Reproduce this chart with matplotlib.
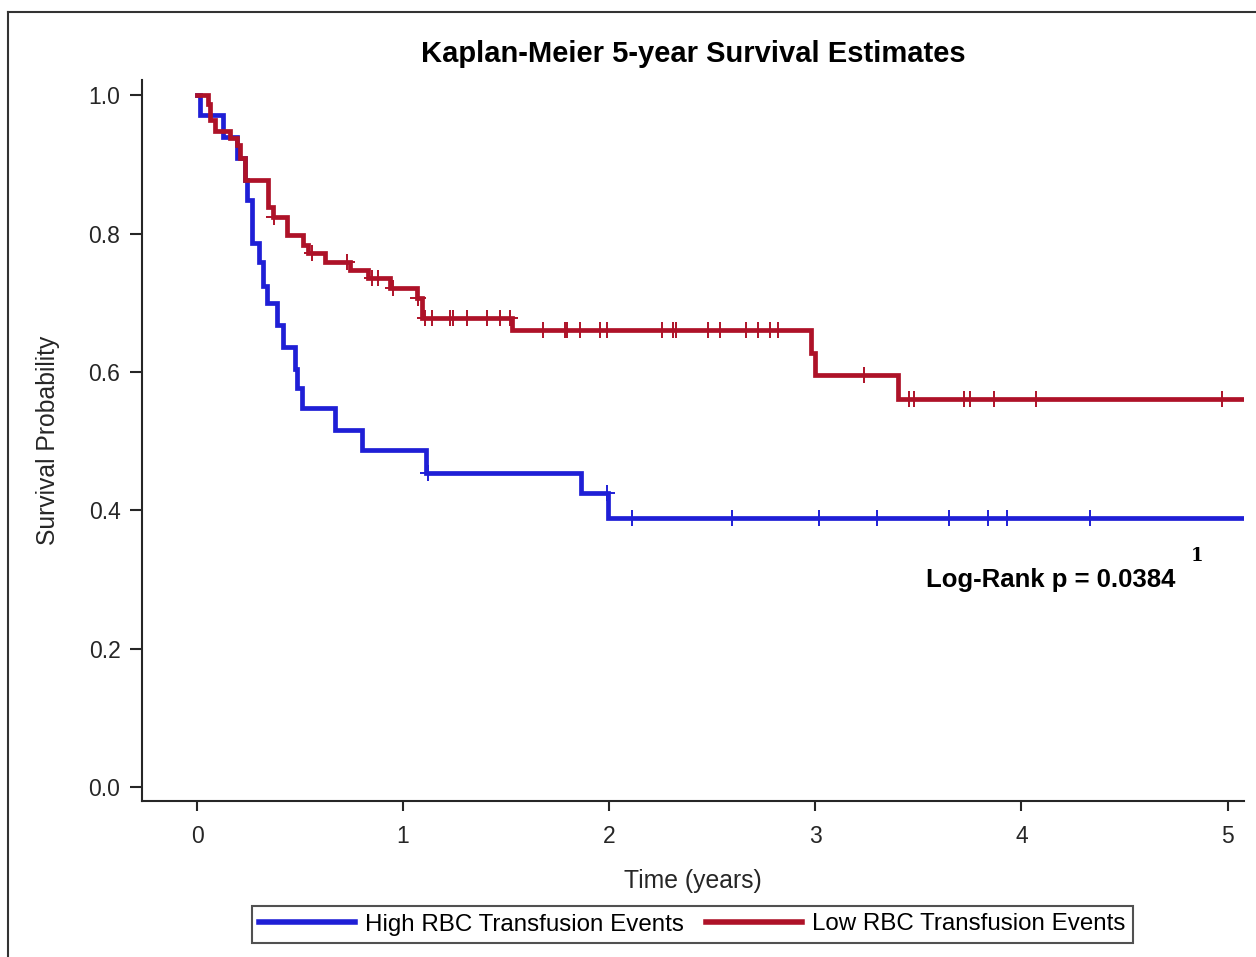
import numpy as np
import matplotlib
matplotlib.use("Agg")
import matplotlib.pyplot as plt
from matplotlib.lines import Line2D

plt.rcParams['font.family'] = ['Liberation Sans', 'DejaVu Sans']

# High RBC transfusion events (KM steps)
high_t = [0, 0.015, 0.124, 0.192, 0.233, 0.241, 0.265, 0.30, 0.32, 0.34, 0.387,
          0.417, 0.475, 0.483, 0.508, 0.669, 0.80, 1.11, 1.862, 1.995, 5.08]
high_s = [1.0, 0.971, 0.94, 0.909, 0.877, 0.848, 0.786, 0.759, 0.725, 0.699, 0.668,
          0.636, 0.605, 0.577, 0.548, 0.516, 0.487, 0.454, 0.425, 0.389, 0.389]
high_cens = [1.12, 1.99, 2.11, 2.595, 3.016, 3.30, 3.65, 3.836, 3.93, 4.335]

# Low RBC transfusion events
low_t = [0, 0.055, 0.063, 0.087, 0.160, 0.193, 0.209, 0.233, 0.344, 0.369, 0.435,
         0.514, 0.540, 0.621, 0.742, 0.829, 0.936, 1.065, 1.090, 1.526, 2.981,
         2.997, 3.401, 5.08]
low_s = [1.0, 0.988, 0.964, 0.949, 0.938, 0.928, 0.909, 0.877, 0.838, 0.824, 0.798,
         0.783, 0.772, 0.759, 0.747, 0.736, 0.721, 0.707, 0.678, 0.660, 0.627,
         0.595, 0.561, 0.561]
low_cens = [0.375, 0.56, 0.73, 0.85, 0.88, 0.95, 1.07, 1.106, 1.138, 1.227, 1.242,
            1.309, 1.406, 1.469, 1.52, 1.679, 1.785, 1.794, 1.857, 1.954, 1.988,
            2.254, 2.308, 2.323, 2.478, 2.536, 2.666, 2.721, 2.779, 2.818, 3.234,
            3.453, 3.477, 3.719, 3.752, 3.865, 4.069, 4.974]

x_ticks = [0, 1, 2, 3, 4, 5]
y_ticks = [0.0, 0.2, 0.4, 0.6, 0.8, 1.0]

blue = '#1f1fd6'
red = '#ae1228'
ink = '#262626'


def level_at(ts, ss, c):
    i = np.searchsorted(ts, c, side='right') - 1
    return np.asarray(ss)[i]


fig = plt.figure(figsize=(12.56, 9.57), dpi=100)
ax = fig.add_axes([142 / 1256, 1 - 801 / 957, 1102 / 1256, 721 / 957])

for ts, ss, cens, col, lab in [(high_t, high_s, high_cens, blue, 'High RBC Transfusion Events'),
                                (low_t, low_s, low_cens, red, 'Low RBC Transfusion Events')]:
    ax.step(ts, ss, where='post', color=col, lw=3.4, label=lab, solid_joinstyle='miter')
    ax.plot(cens, level_at(ts, ss, cens), ls='none', marker='+', ms=11, mew=1.4, color=col)

ax.set_xlim(-0.267, 5.08)
ax.set_ylim(-0.02, 1.022)
ax.set_xticks(x_ticks)
ax.set_xticklabels([str(v) for v in x_ticks])
ax.set_yticks(y_ticks)
ax.set_yticklabels(['%.1f' % v for v in y_ticks])

for s in ['top', 'right']:
    ax.spines[s].set_visible(False)
for s in ['left', 'bottom']:
    ax.spines[s].set_linewidth(1.5)
    ax.spines[s].set_color(ink)
ax.tick_params(axis='y', length=8.5, width=1.5, color=ink, pad=7, labelsize=16.5, labelcolor=ink)
ax.tick_params(axis='x', length=7, width=1.5, color=ink, pad=10, labelsize=16.5, labelcolor=ink)

ax.set_xlabel('Time (years)', fontsize=17.8, color=ink)
ax.xaxis.set_label_coords(0.5, -0.094)
ax.set_ylabel('Survival Probability', fontsize=17.8, color=ink)
ax.yaxis.set_label_coords(-0.074, 0.5)

ax.set_title('Kaplan-Meier 5-year Survival Estimates', fontsize=21, fontweight='bold',
             color='black', y=1.0, pad=0)
ax.title.set_position((0.5, 1 + (80 - 54) / 721))
ax.title.set_va('center')

ax.text(4.14, 0.30, 'Log-Rank p = 0.0384', fontsize=18.5, fontweight='bold',
        ha='center', va='center', color='black')
ax.text(4.85, 0.334, '1', fontsize=13, fontweight='bold', family=['DejaVu Serif'],
        ha='center', va='center', color='black')

leg = fig.legend(*ax.get_legend_handles_labels(), loc='center', ncol=2,
                 bbox_to_anchor=(692.5 / 1256, 1 - 924.5 / 957), fontsize=17.4,
                 frameon=True, fancybox=False, edgecolor=ink, handlelength=3.95,
                 handletextpad=0.45, columnspacing=0.9, borderpad=0.3, borderaxespad=0)
leg.get_frame().set_linewidth(1.5)
for h in leg.get_lines():
    h.set_linewidth(4)

# outer frame (left and top edges visible)
fig.add_artist(Line2D([8 / 1256, 8 / 1256], [0, 1 - 12 / 957], transform=fig.transFigure,
                      color='#333333', lw=1.5))
fig.add_artist(Line2D([8 / 1256, 1], [1 - 12 / 957, 1 - 12 / 957], transform=fig.transFigure,
                      color='#333333', lw=1.5))

fig.savefig('out.png', dpi=100)
